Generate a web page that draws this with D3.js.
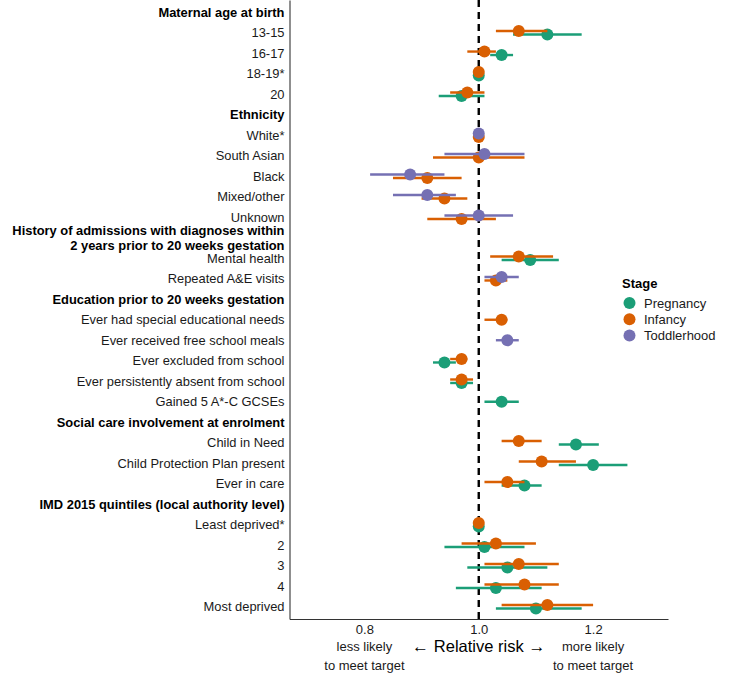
<!DOCTYPE html>
<html>
<head>
<meta charset="utf-8">
<script src="https://cdn.jsdelivr.net/npm/d3@7"></script>
<style>
  body { margin: 0; background: #fff; }
  svg text { font-family: "Liberation Sans", Arial, sans-serif; }
</style>
</head>
<body>
<div id="chart"></div>
<script>
// rows from top to bottom; "\n" splits a label over two lines
var rowLabels = [
    "Maternal age at birth", "13-15", "16-17", "18-19*", "20",
    "Ethnicity", "White*", "South Asian", "Black", "Mixed/other", "Unknown",
    "History of admissions with diagnoses within\n2 years prior to 20 weeks gestation",
    "Mental health", "Repeated A&E visits",
    "Education prior to 20 weeks gestation",
    "Ever had special educational needs", "Ever received free school meals",
    "Ever excluded from school", "Ever persistently absent from school", "Gained 5 A*-C GCSEs",
    "Social care involvement at enrolment",
    "Child in Need", "Child Protection Plan present", "Ever in care",
    "IMD 2015 quintiles (local authority level)",
    "Least deprived*", "2", "3", "4", "Most deprived"
];
var headerRows = [
    "Maternal age at birth", "Ethnicity",
    "History of admissions with diagnoses within\n2 years prior to 20 weeks gestation",
    "Education prior to 20 weeks gestation", "Social care involvement at enrolment",
    "IMD 2015 quintiles (local authority level)"
];

var stages = ["Pregnancy", "Infancy", "Toddlerhood"];
var palette = ["#1b9e77", "#d95f02", "#7570b3"];

// Pregnancy
var pregnancyRows = ["13-15", "16-17", "18-19*", "20", "Mental health",
    "Ever excluded from school", "Ever persistently absent from school", "Gained 5 A*-C GCSEs",
    "Child in Need", "Child Protection Plan present", "Ever in care",
    "Least deprived*", "2", "3", "4", "Most deprived"];
var pregnancyRR = [1.12, 1.04, 1.00, 0.97, 1.09, 0.94, 0.97, 1.04, 1.17, 1.20, 1.08, 1.00, 1.01, 1.05, 1.03, 1.10];
var pregnancyLo = [1.06, 1.02, 1.00, 0.93, 1.04, 0.92, 0.95, 1.01, 1.14, 1.14, 1.04, 1.00, 0.94, 0.98, 0.96, 1.03];
var pregnancyHi = [1.18, 1.06, 1.00, 1.01, 1.14, 0.96, 0.99, 1.07, 1.21, 1.26, 1.11, 1.00, 1.08, 1.12, 1.11, 1.18];

// Infancy
var infancyRows = ["13-15", "16-17", "18-19*", "20", "White*", "South Asian", "Black", "Mixed/other", "Unknown",
    "Mental health", "Repeated A&E visits", "Ever had special educational needs",
    "Ever excluded from school", "Ever persistently absent from school",
    "Child in Need", "Child Protection Plan present", "Ever in care",
    "Least deprived*", "2", "3", "4", "Most deprived"];
var infancyRR = [1.07, 1.01, 1.00, 0.98, 1.00, 1.00, 0.91, 0.94, 0.97, 1.07, 1.03, 1.04, 0.97, 0.97, 1.07, 1.11, 1.05, 1.00, 1.03, 1.07, 1.08, 1.12];
var infancyLo = [1.03, 0.98, 1.00, 0.95, 1.00, 0.92, 0.85, 0.90, 0.91, 1.02, 1.01, 1.01, 0.95, 0.95, 1.04, 1.07, 1.01, 1.00, 0.97, 1.01, 1.01, 1.04];
var infancyHi = [1.12, 1.03, 1.00, 1.01, 1.00, 1.08, 0.97, 0.98, 1.03, 1.13, 1.05, 1.05, 0.98, 0.99, 1.11, 1.17, 1.08, 1.00, 1.10, 1.14, 1.14, 1.20];

// Toddlerhood
var toddlerRows = ["White*", "South Asian", "Black", "Mixed/other", "Unknown",
    "Repeated A&E visits", "Ever received free school meals"];
var toddlerRR = [1.00, 1.01, 0.88, 0.91, 1.00, 1.04, 1.05];
var toddlerLo = [1.00, 0.94, 0.81, 0.85, 0.94, 1.01, 1.03];
var toddlerHi = [1.00, 1.08, 0.94, 0.96, 1.06, 1.07, 1.07];

var xTicks = [0.8, 1.0, 1.2];

var width = 734, height = 681;
var margin = { top: 0, right: 66, bottom: 62, left: 289.5 };
var innerW = width - margin.left - margin.right;
var innerH = height - margin.top - margin.bottom;

function build(stage, rows, rr, lo, hi) {
    return rows.map((r, i) => ({ stage: stage, row: r, rr: rr[i], lo: lo[i], hi: hi[i] }));
}
var points = [].concat(
    build("Pregnancy", pregnancyRows, pregnancyRR, pregnancyLo, pregnancyHi),
    build("Infancy", infancyRows, infancyRR, infancyLo, infancyHi),
    build("Toddlerhood", toddlerRows, toddlerRR, toddlerLo, toddlerHi)
);

var x = d3.scaleLinear().domain([0.669, 1.331]).range([0, innerW]);
var y = d3.scalePoint().domain(rowLabels).range([0, innerH]).padding(0.6);
var color = d3.scaleOrdinal().domain(stages).range(palette);

// vertical dodge: later stages sit higher in the row
var dodge = y.step() * 0.17;
points.forEach(function (d) {
    var present = stages.filter(s => points.some(p => p.row === d.row && p.stage === s));
    var k = present.indexOf(d.stage);
    d.yy = y(d.row) - (k - (present.length - 1) / 2) * dodge;
});

var svg = d3.select("#chart").append("svg")
    .attr("width", width)
    .attr("height", height);

var canvas = svg.append("g")
    .attr("transform", "translate(" + margin.left + "," + margin.top + ")");

// reference line
canvas.append("line")
    .attr("x1", x(1)).attr("x2", x(1))
    .attr("y1", 0).attr("y2", innerH)
    .attr("stroke", "#000")
    .attr("stroke-width", 2.4)
    .attr("stroke-dasharray", "7,5");

stages.forEach(function (s) {
    var grp = canvas.append("g").attr("class", "stage");
    var data = points.filter(d => d.stage === s);
    grp.selectAll("line")
        .data(data)
        .enter()
        .append("line")
        .attr("x1", d => x(d.lo))
        .attr("x2", d => x(d.hi))
        .attr("y1", d => d.yy)
        .attr("y2", d => d.yy)
        .attr("stroke", color(s))
        .attr("stroke-width", 2.4);
    grp.selectAll("circle")
        .data(data)
        .enter()
        .append("circle")
        .attr("cx", d => x(d.rr))
        .attr("cy", d => d.yy)
        .attr("r", 6)
        .attr("fill", color(s));
});

// axes
var xAxis = canvas.append("g")
    .attr("transform", "translate(0," + innerH + ")")
    .call(d3.axisBottom(x).tickValues(xTicks).tickFormat(d3.format(".1f")).tickSize(0).tickPadding(6));
xAxis.select(".domain").attr("stroke", "#333").attr("stroke-width", 1.1);
xAxis.selectAll("text")
    .style("font-family", "Liberation Sans, Arial, sans-serif")
    .style("font-size", "13px")
    .attr("fill", "#1a1a1a");

var yAxis = canvas.append("g")
    .call(d3.axisLeft(y).tickSize(0).tickPadding(5));
yAxis.select(".domain").attr("stroke", "#333").attr("stroke-width", 1.1);
yAxis.selectAll(".tick text")
    .style("font-family", "Liberation Sans, Arial, sans-serif")
    .style("font-size", "12.9px")
    .attr("fill", d => headerRows.includes(d) ? "#000" : "#1a1a1a")
    .style("font-weight", d => headerRows.includes(d) ? "bold" : "normal")
    .each(function (d) {
        var lines = d.split("\n");
        if (lines.length > 1) {
            var t = d3.select(this).text(null).attr("dy", null);
            lines.forEach(function (l, i) {
                t.append("tspan")
                    .attr("x", -5)
                    .attr("y", (i - (lines.length - 1) / 2) * 14.5)
                    .attr("dy", "0.32em")
                    .text(l);
            });
        }
    });

// axis title and annotations
var under = svg.append("g").attr("transform", "translate(" + margin.left + ",0)");
var title = under.append("text")
    .attr("x", x(1)).attr("y", 652)
    .attr("text-anchor", "middle")
    .attr("fill", "#000");
title.append("tspan").style("font-size", "17px").text("\u2190 ");
title.append("tspan").style("font-size", "16.5px").text("Relative risk");
title.append("tspan").style("font-size", "17px").text(" \u2192");

[["less likely", "to meet target", 0.8], ["more likely", "to meet target", 1.2]].forEach(function (a) {
    under.append("text")
        .attr("x", x(a[2])).attr("y", 651)
        .attr("text-anchor", "middle")
        .style("font-size", "13px")
        .attr("fill", "#1a1a1a")
        .text(a[0]);
    under.append("text")
        .attr("x", x(a[2])).attr("y", 670)
        .attr("text-anchor", "middle")
        .style("font-size", "13px")
        .attr("fill", "#1a1a1a")
        .text(a[1]);
});

// legend
var legend = svg.append("g").attr("transform", "translate(622,0)");
legend.append("text")
    .attr("x", 0).attr("y", 288)
    .style("font-size", "13px")
    .style("font-weight", "bold")
    .text("Stage");
var item = legend.selectAll(".item")
    .data(stages)
    .enter()
    .append("g")
    .attr("class", "item")
    .attr("transform", (d, i) => "translate(0," + (303 + i * 16.2) + ")");
item.append("circle")
    .attr("cx", 7.5).attr("cy", 0).attr("r", 6)
    .attr("fill", d => color(d));
item.append("text")
    .attr("x", 22).attr("y", 0).attr("dy", "0.35em")
    .style("font-size", "13px")
    .attr("fill", "#1a1a1a")
    .text(d => d);
</script>
</body>
</html>
